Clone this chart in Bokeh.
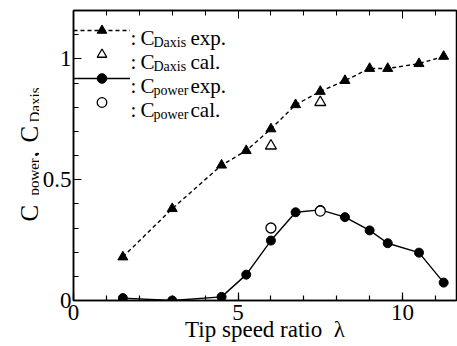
from math import pi
from bokeh.plotting import figure
from bokeh.layouts import row
from bokeh.core.properties import value
from bokeh.models import (Range1d, SingleIntervalTicker, LinearAxis, Label,
                          Legend, LegendItem, CustomJSTickFormatter)
from bokeh.embed import file_html
from bokeh.resources import INLINE

# ---- data ----
tsr_exp = [1.5, 3.0, 4.5, 5.25, 6.0, 6.75, 7.5, 8.25, 9.0, 9.55, 10.5, 11.25]
cdaxis_exp = [0.18, 0.38, 0.56, 0.62, 0.71, 0.81, 0.865, 0.91, 0.96, 0.96, 0.98, 1.01]
cpower_exp = [0.01, 0.0, 0.015, 0.107, 0.248, 0.365, 0.375, 0.345, 0.29, 0.237, 0.198, 0.074]
tsr_cal = [6.0, 7.5]
cdaxis_cal = [0.64, 0.82]
cpower_cal = [0.30, 0.37]

x_label = "Tip speed ratio\u00a0\u00a0\u03bb"
legend_main = [":\u2009C", ":\u2009C", ":\u2009C", ":\u2009C"]
legend_sub = ["Daxis", "Daxis", "power", "power"]
legend_tail = ["exp.", "cal.", "exp.", "cal."]
ylab_main = ["C", ",", "C"]
ylab_sub = ["power", "Daxis"]

FONT = "Liberation Serif"
LW = 39   # width of the strip that carries the y-axis title
H = 346
yr = Range1d(0, 1.2)

# ---- strip holding the rotated y-axis title (C_power, C_Daxis); shares the y range ----
lab = figure(width=LW, height=H, x_range=Range1d(0, LW), y_range=yr,
             output_backend="svg", toolbar_location=None,
             min_border_left=0, min_border_right=0, min_border_top=10, min_border_bottom=46,
             x_axis_location=None, y_axis_location=None)
lab.grid.visible = False
lab.outline_line_color = None
lab.text(x=[29, 29, 29], y=[0.327, 0.592, 0.654], text=ylab_main, angle=pi / 2,
         text_font=value(FONT), text_font_size="25px", text_baseline="alphabetic",
         text_align="left", text_color="black")
lab.text(x=[33.5, 34.5], y=[0.434, 0.737], text=ylab_sub, angle=pi / 2,
         text_font=value(FONT), text_font_size="15px", text_baseline="alphabetic",
         text_align="left", text_color="black")

# ---- main chart ----
p = figure(width=457 - LW, height=H, x_range=Range1d(0, 11.64), y_range=yr,
           output_backend="svg", toolbar_location=None,
           min_border_left=73 - LW, min_border_right=1, min_border_top=10, min_border_bottom=46)
p.grid.visible = False
p.outline_line_color = "black"
p.outline_line_width = 1.5
p.background_fill_color = "white"
p.border_fill_color = "white"

xt = SingleIntervalTicker(interval=5, num_minor_ticks=5)
yt = SingleIntervalTicker(interval=0.5, num_minor_ticks=5)
fmt = CustomJSTickFormatter(code="return String(Math.round(tick*10)/10);")

for ax in (p.xaxis[0], p.yaxis[0]):
    ax.axis_line_width = 1.5
    ax.major_tick_in = 8
    ax.major_tick_out = 0
    ax.minor_tick_in = 5
    ax.minor_tick_out = 0
    ax.major_tick_line_width = 1.2
    ax.minor_tick_line_width = 1.2
    ax.major_label_text_font = FONT
    ax.major_label_text_font_size = "23px"
    ax.major_label_text_color = "black"
    ax.formatter = fmt

p.xaxis[0].ticker = xt
p.yaxis[0].ticker = yt
p.xaxis[0].major_label_standoff = 4
p.yaxis[0].major_label_standoff = 2
p.xaxis[0].axis_label = x_label
p.xaxis[0].axis_label_text_font = FONT
p.xaxis[0].axis_label_text_font_style = "normal"
p.xaxis[0].axis_label_text_font_size = "23px"
p.xaxis[0].axis_label_text_color = "black"
p.xaxis[0].axis_label_standoff = -6

top = LinearAxis(ticker=xt, major_tick_in=8, major_tick_out=0, minor_tick_in=5,
                 minor_tick_out=0, major_label_text_font_size="0px",
                 major_label_standoff=0, axis_line_width=1.5)
p.add_layout(top, "above")

# ---- series ----
l_dax = p.line(tsr_exp, cdaxis_exp, line_color="black", line_width=1.4, line_dash="4 3")
s_dax = p.scatter(tsr_exp, cdaxis_exp, marker="triangle", size=10, color="black")
l_pow = p.line(tsr_exp, cpower_exp, line_color="black", line_width=1.4)
s_pow = p.scatter(tsr_exp, cpower_exp, marker="circle", size=9, color="black")
s_dax_cal = p.scatter(tsr_cal, cdaxis_cal, marker="triangle", size=11,
                      fill_color="white", line_color="black", line_width=1.3)
s_pow_cal = p.scatter(tsr_cal, cpower_cal, marker="circle", size=10,
                      fill_color="white", line_color="black", line_width=1.3)

legend = Legend(items=[
    LegendItem(label=" ", renderers=[l_dax, s_dax]),
    LegendItem(label=" ", renderers=[s_dax_cal]),
    LegendItem(label=" ", renderers=[l_pow, s_pow]),
    LegendItem(label=" ", renderers=[s_pow_cal]),
], location=(0, 186), padding=0, margin=0, spacing=0, glyph_width=57, glyph_height=24,
   label_standoff=0, label_text_font=FONT, label_text_font_size="1px", label_height=1,
   label_width=1, border_line_alpha=0, background_fill_alpha=0)
p.add_layout(legend)

row_base = [37.5, 61.5, 85.5, 109.5]
for i in range(4):
    p.add_layout(Label(x=130 - LW, y=row_base[i], x_units="canvas", y_units="canvas",
                       text=legend_main[i], text_font=FONT, text_font_size="21px",
                       text_baseline="alphabetic", text_align="left", text_color="black"))
    p.add_layout(Label(x=153 - LW, y=row_base[i] + 4, x_units="canvas", y_units="canvas",
                       text=legend_sub[i], text_font=FONT, text_font_size="14px",
                       text_baseline="alphabetic", text_align="left", text_color="black"))
    p.add_layout(Label(x=190 - LW, y=row_base[i], x_units="canvas", y_units="canvas",
                       text=legend_tail[i], text_font=FONT, text_font_size="21px",
                       text_baseline="alphabetic", text_align="left", text_color="black"))

layout = row(lab, p)
open("out.html", "w").write(file_html(layout, INLINE))
